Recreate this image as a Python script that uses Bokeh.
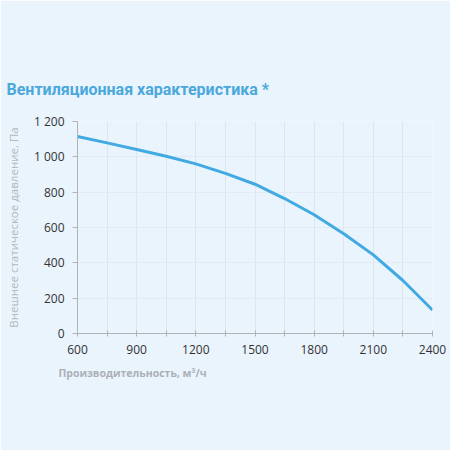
from bokeh.plotting import figure
from bokeh.models import FixedTicker, Range1d, Title
from bokeh.embed import file_html
from bokeh.resources import INLINE

# airflow, m3/h and external static pressure, Pa
flow = [600, 750, 900, 1050, 1200, 1350, 1500, 1650, 1800, 1950, 2100, 2250, 2400]
pressure = [1115, 1079, 1042, 1003, 960, 906, 845, 764, 672, 565, 445, 300, 133]

x_ticks = [600, 900, 1200, 1500, 1800, 2100, 2400]
x_minor = [750, 1050, 1350, 1650, 1950, 2250]
y_ticks = [0, 200, 400, 600, 800, 1000, 1200]
y_labels = ["0", "200", "400", "600", "800", "1 000", "1 200"]

BG = "#eaf4fd"
FONT = "Open Sans"
GREY = "#aab0b6"

p = figure(width=450, height=450, output_backend="svg", toolbar_location=None,
           x_range=Range1d(600, 2400), y_range=Range1d(0, 1200),
           min_border_left=77, min_border_right=18,
           min_border_top=121, min_border_bottom=117)
p.background_fill_color = BG
p.border_fill_color = BG
p.outline_line_color = None

p.line(flow, pressure, line_color="#42aae2", line_width=3, line_join="round")

p.xaxis.ticker = FixedTicker(ticks=x_ticks, minor_ticks=x_minor)
p.yaxis.ticker = FixedTicker(ticks=y_ticks)
p.yaxis.major_label_overrides = {t: s for t, s in zip(y_ticks, y_labels)}

for ax in (p.xaxis, p.yaxis):
    ax.axis_line_color = "#b0b4b8"
    ax.major_tick_line_color = "#b0b4b8"
    ax.minor_tick_line_color = "#b0b4b8"
    ax.major_label_text_font = FONT
    ax.major_label_text_font_size = "12px"
    ax.major_label_text_color = "#333333"

p.xaxis.major_tick_in = 3
p.xaxis.major_tick_out = 3
p.xaxis.minor_tick_in = 3
p.xaxis.minor_tick_out = 3
p.xaxis.major_label_standoff = 8
p.yaxis.major_tick_in = 0
p.yaxis.major_tick_out = 5
p.yaxis.minor_tick_line_color = None
p.yaxis.major_label_standoff = 8

p.yaxis.axis_label = "Внешнее статическое давление, Па"
p.yaxis.axis_label_text_font = FONT
p.yaxis.axis_label_text_font_size = "11.5px"
p.yaxis.axis_label_text_font_style = "normal"
p.yaxis.axis_label_text_color = "#b2b8bd"
p.yaxis.axis_label_standoff = 10

p.xgrid.ticker = FixedTicker(ticks=x_ticks + x_minor)
p.xgrid.grid_line_color = "#dde6ee"
p.ygrid.ticker = FixedTicker(ticks=y_ticks)
p.ygrid.grid_line_color = "#e2ebf3"

# empty row between the frame and the title
p.add_layout(Title(text=" ", text_font_size="14px", standoff=0), "above")
title = Title(text="Вентиляционная характеристика *", align="left", offset=-71,
              text_font="Roboto", text_font_size="16px", text_font_style="bold",
              text_color="#4aa8dc", standoff=10)
p.add_layout(title, "above")

xlabel = Title(text="Производительность, м³/ч", align="left", offset=-19,
               text_font=FONT, text_font_size="10.5px", text_font_style="bold",
               text_color=GREY, standoff=15)
p.add_layout(xlabel, "below")

open("out.html", "w").write(file_html(p, INLINE))
